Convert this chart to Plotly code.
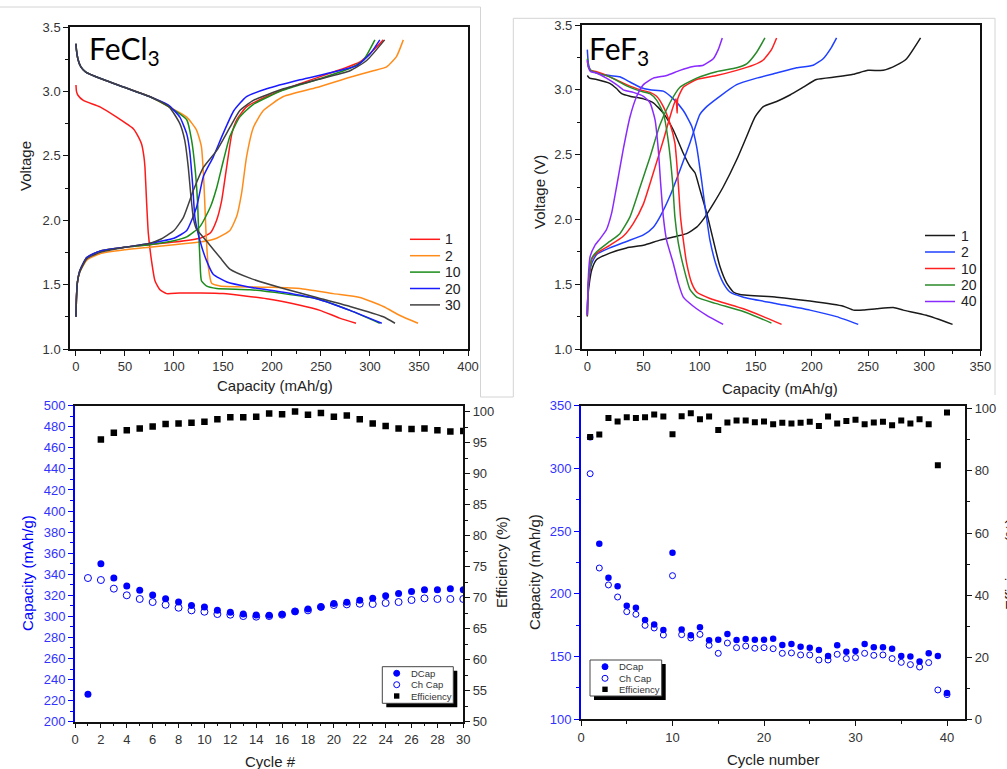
import plotly.graph_objects as go

# ---------------- DATA ----------------
# FeCl3 voltage profiles (capacity mAh/g, voltage V); discharge then charge per cycle
fecl3_cycles = ["1", "2", "10", "20", "30"]
fecl3_colors = ["#ff1a1a", "#ff8c1a", "#1a8c1a", "#1a1aff", "#404040"]

fecl3_c1_dis_x = [0, 0.5, 2, 7.5, 24.5, 41.5, 58.5, 62, 67, 69.4, 70.4, 72, 73.8, 77, 80.6, 85.7, 92.5, 106, 150, 194.6, 228.6, 249, 269, 285.7]
fecl3_c1_dis_y = [3.05, 3.00, 2.97, 2.93, 2.88, 2.80, 2.71, 2.67, 2.59, 2.49, 2.41, 2.15, 1.90, 1.69, 1.53, 1.46, 1.43, 1.435, 1.43, 1.39, 1.34, 1.30, 1.24, 1.20]
fecl3_c1_ch_x = [0, 0.5, 1.5, 4, 11, 24.5, 50, 75, 100, 126.5, 137, 143.5, 148.6, 153.7, 159, 164, 174, 194.6, 228.6, 262.6, 289.8, 303.4, 313.6]
fecl3_c1_ch_y = [1.25, 1.40, 1.52, 1.61, 1.71, 1.76, 1.79, 1.81, 1.83, 1.86, 1.90, 2.00, 2.15, 2.41, 2.67, 2.78, 2.88, 2.96, 3.06, 3.15, 3.23, 3.32, 3.40]

fecl3_c2_dis_x = [0, 0.5, 2, 5, 10, 25, 50, 75.5, 92.5, 113, 123, 128, 130.6, 132.7, 135, 138.4, 147, 194.6, 228.6, 262.6, 289.8, 313.6, 330.6, 349]
fecl3_c2_dis_y = [3.37, 3.32, 3.25, 3.19, 3.15, 3.10, 3.03, 2.96, 2.89, 2.80, 2.70, 2.57, 2.28, 1.90, 1.64, 1.51, 1.49, 1.48, 1.47, 1.43, 1.40, 1.33, 1.26, 1.20]
fecl3_c2_ch_x = [0, 0.5, 1.5, 4, 11, 24.5, 50, 75, 100, 126.5, 143.5, 157, 164, 169, 174, 181, 191, 211.6, 245.6, 279.6, 303.4, 317, 327, 334]
fecl3_c2_ch_y = [1.25, 1.40, 1.52, 1.60, 1.69, 1.74, 1.77, 1.79, 1.81, 1.83, 1.86, 1.92, 2.03, 2.21, 2.49, 2.72, 2.85, 2.96, 3.03, 3.11, 3.16, 3.19, 3.27, 3.40]

fecl3_c10_dis_x = [0, 0.5, 2, 5, 10, 25, 50, 75, 95, 113, 118, 121.4, 124, 125, 126.5, 128, 133, 143.5, 177.5, 211.6, 245.6, 279.6, 310]
fecl3_c10_dis_y = [3.37, 3.32, 3.25, 3.19, 3.15, 3.10, 3.03, 2.96, 2.88, 2.78, 2.62, 2.41, 2.15, 1.95, 1.69, 1.53, 1.49, 1.47, 1.46, 1.43, 1.39, 1.30, 1.20]
fecl3_c10_ch_x = [0, 0.5, 1.5, 4, 11, 24.5, 50, 75, 100, 113, 126.5, 137, 143.5, 150.3, 157, 167, 181, 211.6, 245.6, 279.6, 293, 305]
fecl3_c10_ch_y = [1.25, 1.40, 1.52, 1.61, 1.71, 1.76, 1.79, 1.81, 1.84, 1.87, 1.95, 2.10, 2.25, 2.46, 2.65, 2.80, 2.90, 3.01, 3.09, 3.18, 3.24, 3.40]

fecl3_c20_dis_x = [0, 0.5, 2, 5, 10, 25, 50, 75, 95, 106, 113, 116, 119, 121.4, 126.5, 133, 140, 154, 177.5, 211.6, 245.6, 279.6, 312]
fecl3_c20_dis_y = [3.37, 3.32, 3.25, 3.19, 3.15, 3.10, 3.03, 2.96, 2.89, 2.80, 2.67, 2.54, 2.28, 2.02, 1.84, 1.69, 1.58, 1.52, 1.48, 1.44, 1.39, 1.30, 1.20]
fecl3_c20_ch_x = [0, 0.5, 1.5, 4, 11, 24.5, 50, 75, 100, 113, 123, 130, 140, 150, 161, 174, 194.6, 228.6, 262.6, 286.4, 300, 310]
fecl3_c20_ch_y = [1.25, 1.40, 1.52, 1.61, 1.71, 1.76, 1.79, 1.82, 1.86, 1.92, 2.10, 2.34, 2.49, 2.67, 2.85, 2.96, 3.02, 3.09, 3.15, 3.20, 3.29, 3.40]

fecl3_c30_dis_x = [0, 0.5, 2, 5, 10, 25, 50, 75, 95, 106, 111, 114.6, 117, 119.7, 123, 133, 147, 157, 177.5, 211.6, 245.6, 279.6, 313.6, 325.5]
fecl3_c30_dis_y = [3.37, 3.32, 3.25, 3.19, 3.15, 3.10, 3.03, 2.96, 2.88, 2.75, 2.62, 2.41, 2.21, 2.02, 1.93, 1.84, 1.71, 1.62, 1.55, 1.47, 1.40, 1.33, 1.25, 1.20]
fecl3_c30_ch_x = [0, 0.5, 1.5, 4, 11, 24.5, 50, 75, 85.7, 100, 109.5, 119.7, 130, 143.5, 157, 167, 181, 211.6, 245.6, 279.6, 296.6, 315]
fecl3_c30_ch_y = [1.25, 1.40, 1.52, 1.60, 1.70, 1.75, 1.79, 1.82, 1.85, 1.92, 2.02, 2.23, 2.41, 2.54, 2.72, 2.85, 2.93, 3.02, 3.09, 3.16, 3.24, 3.40]

# FeF3 voltage profiles
fef3_cycles = ["1", "2", "10", "20", "40"]
fef3_colors = ["#1a1a1a", "#2040ff", "#ff2020", "#2a8a2a", "#8a2aff"]

fef3_c1_dis_x = [0, 2, 8.3, 20, 26, 30.6, 38, 50, 58.8, 67.7, 76.6, 85.5, 91.4, 95.9, 100.3, 106.3, 112.2, 118, 124, 130, 136, 168.6, 198.3, 228, 237, 245.8, 257.6, 272.5, 281.4, 302, 325.3]
fef3_c1_dis_y = [3.11, 3.09, 3.08, 3.05, 3.01, 2.97, 2.95, 2.93, 2.90, 2.82, 2.69, 2.51, 2.41, 2.36, 2.23, 2.05, 1.84, 1.64, 1.51, 1.44, 1.42, 1.40, 1.37, 1.33, 1.30, 1.30, 1.31, 1.32, 1.30, 1.26, 1.19]
fef3_c1_ch_x = [0, 0.5, 2, 3.9, 8.3, 20, 35, 50, 64.7, 79.5, 88.5, 97.4, 103.3, 112.2, 121, 133, 141.9, 149.3, 156.7, 168.6, 180.5, 192.3, 204, 222, 236.9, 250, 263.6, 275.4, 284.4, 296.8]
fef3_c1_ch_y = [1.25, 1.40, 1.52, 1.61, 1.69, 1.74, 1.78, 1.80, 1.84, 1.87, 1.89, 1.94, 2.00, 2.12, 2.25, 2.46, 2.64, 2.79, 2.87, 2.91, 2.96, 3.02, 3.08, 3.10, 3.12, 3.15, 3.15, 3.19, 3.24, 3.40]

fef3_c2_dis_x = [0, 1, 3, 8.3, 20, 29, 38, 47, 55.8, 67.7, 76.6, 85.5, 92.9, 97.4, 101.8, 104.8, 109.2, 115, 121, 127, 139, 168.6, 198.3, 222, 241.3]
fef3_c2_dis_y = [3.31, 3.20, 3.15, 3.13, 3.11, 3.10, 3.06, 3.02, 3.00, 2.99, 2.93, 2.84, 2.72, 2.56, 2.30, 2.10, 1.84, 1.64, 1.51, 1.44, 1.40, 1.35, 1.30, 1.25, 1.19]
fef3_c2_ch_x = [0, 0.5, 1.5, 3.9, 8.3, 20, 35, 50, 58.8, 64.7, 73.6, 82.5, 91.4, 100.3, 106.3, 118, 133, 150.8, 168.6, 186.4, 201.2, 210, 217.6, 222]
fef3_c2_ch_y = [1.27, 1.42, 1.55, 1.66, 1.73, 1.78, 1.83, 1.88, 1.94, 2.02, 2.18, 2.38, 2.59, 2.81, 2.87, 2.95, 3.04, 3.09, 3.13, 3.17, 3.19, 3.24, 3.33, 3.40]

fef3_c10_dis_x = [0, 1, 3, 8.3, 20, 35, 47, 55.8, 61.7, 67.7, 73.6, 78, 81, 83, 85.5, 88.5, 92.9, 97.4, 109.2, 139, 156.7, 173]
fef3_c10_dis_y = [3.22, 3.18, 3.15, 3.14, 3.10, 3.04, 3.00, 2.98, 2.95, 2.87, 2.74, 2.59, 2.28, 2.02, 1.84, 1.66, 1.51, 1.44, 1.39, 1.31, 1.25, 1.19]
fef3_c10_ch_x = [0, 0.5, 1.5, 3.9, 8.3, 20, 32, 41, 50, 58.8, 67.7, 73.6, 79, 80, 80.5, 85.5, 97.4, 115, 133, 147.8, 156.7, 164, 168.6]
fef3_c10_ch_y = [1.26, 1.42, 1.56, 1.69, 1.74, 1.80, 1.87, 1.97, 2.12, 2.36, 2.61, 2.79, 2.93, 2.82, 2.93, 3.02, 3.08, 3.11, 3.15, 3.19, 3.23, 3.31, 3.40]

fef3_c20_dis_x = [0, 1, 3, 8.3, 20, 35, 47, 55.8, 61.7, 67.7, 72, 76, 78, 81, 85.5, 91.4, 97.4, 115, 139, 164]
fef3_c20_dis_y = [3.24, 3.18, 3.15, 3.13, 3.10, 3.03, 2.99, 2.97, 2.92, 2.82, 2.61, 2.28, 2.02, 1.82, 1.64, 1.46, 1.40, 1.35, 1.29, 1.20]
fef3_c20_ch_x = [0, 0.5, 1.5, 3.9, 8.3, 20, 29, 38, 47, 55.8, 64.7, 73.6, 82.5, 97.4, 115, 133, 141.9, 150.8, 158.2]
fef3_c20_ch_y = [1.26, 1.43, 1.57, 1.70, 1.75, 1.83, 1.89, 2.02, 2.25, 2.48, 2.73, 2.90, 3.02, 3.09, 3.14, 3.17, 3.20, 3.29, 3.40]

fef3_c40_dis_x = [0, 1, 3, 8.3, 17, 26, 32, 41, 50, 55.8, 60.3, 63.2, 65.3, 67.7, 70.6, 76.6, 81, 85.5, 94.4, 106.3, 121]
fef3_c40_dis_y = [3.23, 3.17, 3.14, 3.13, 3.09, 3.04, 3.00, 2.98, 2.95, 2.90, 2.77, 2.54, 2.28, 2.02, 1.84, 1.66, 1.51, 1.40, 1.33, 1.26, 1.19]
fef3_c40_ch_x = [0, 0.5, 1.2, 2.4, 6.8, 11.3, 17, 21.7, 26, 32, 38, 44, 50, 58.8, 70.6, 82.5, 94.4, 103.3, 112.2, 116.6, 120.2]
fef3_c40_ch_y = [1.26, 1.45, 1.60, 1.71, 1.80, 1.85, 1.92, 2.05, 2.25, 2.54, 2.79, 2.95, 3.04, 3.09, 3.11, 3.15, 3.18, 3.19, 3.24, 3.31, 3.40]

# FeCl3 cycling
fecl3_cycle = list(range(1, 31))
fecl3_dcap = [226, 350, 336.4, 328.8, 324.7, 320.3, 316.8, 313.6, 310.4, 308.9, 305.7, 303.8, 302.2, 301.3, 301.0,
              302.0, 304.7, 307.0, 309.0, 312.3, 313.3, 315.2, 317.1, 319.6, 321.8, 323.7, 325.3, 325.3, 326.3, 325.3]
fecl3_chcap = [336.4, 334.5, 326.3, 320.0, 316.5, 313.6, 311.0, 308.2, 305.7, 304.4, 302.2, 301.6, 300.3, 299.7, 300.3,
               301.6, 304.7, 305.7, 309.0, 310.8, 311.4, 312.0, 311.7, 312.7, 313.6, 315.5, 317.1, 316.5, 316.5, 316.5]
fecl3_eff_cycle = list(range(2, 31))
fecl3_eff = [95.5, 96.6, 97.0, 97.3, 97.6, 98.0, 98.1, 98.2, 98.4, 98.8, 99.1, 99.1, 99.2, 99.7, 99.6, 100.05,
             99.5, 99.8, 99.2, 99.4, 98.8, 98.1, 97.7, 97.3, 97.2, 97.3, 97.0, 96.8, 96.9]

# FeF3 cycling
fef3_cycle = list(range(1, 41))
fef3_dcap = [324.8, 240.0, 212.9, 206.0, 190.6, 189.0, 179.2, 175.5, 171.2, 232.8, 171.5, 167.0, 173.3, 163.0, 163.5,
             168.0, 163.2, 164.0, 163.5, 163.5, 164.3, 159.2, 160.0, 157.9, 157.1, 155.3, 150.5, 159.0, 153.9, 154.5,
             160.0, 157.4, 157.4, 156.3, 150.5, 150.0, 146.0, 152.6, 150.5, 121.0]
fef3_chcap = [295.8, 220.6, 207.1, 197.5, 185.8, 183.7, 174.9, 172.8, 167.2, 214.5, 167.5, 164.8, 167.7, 159.0, 152.6,
              160.8, 157.1, 158.4, 156.6, 157.1, 156.3, 152.6, 152.9, 151.3, 151.3, 147.3, 147.3, 151.8, 148.4, 149.2,
              152.6, 151.0, 151.3, 148.4, 145.4, 143.6, 141.7, 145.2, 123.4, 119.7]
fef3_eff = [90.9, 91.7, 97.0, 95.9, 97.3, 97.0, 97.3, 98.2, 97.5, 91.8, 97.6, 98.6, 96.6, 97.5, 93.2, 95.6, 96.2, 96.2,
            95.7, 95.9, 95.0, 95.5, 95.3, 95.5, 95.8, 94.5, 97.5, 95.3, 96.1, 96.5, 95.0, 95.6, 95.8, 94.7, 96.2, 95.3,
            96.6, 95.0, 81.8, 98.8]

legend_cap_labels = ["DCap", "Ch Cap", "Efficiency"]

# ---------------- FIGURE ----------------
W, H = 1007, 769
def PX(x): return x / W
def PY(y): return 1 - y / H

FONT = "Liberation Sans, Arial, sans-serif"
BLUE = "#0000ff"

fig = go.Figure()

fecl3_dis = [(fecl3_c1_dis_x, fecl3_c1_dis_y, fecl3_c1_ch_x, fecl3_c1_ch_y),
             (fecl3_c2_dis_x, fecl3_c2_dis_y, fecl3_c2_ch_x, fecl3_c2_ch_y),
             (fecl3_c10_dis_x, fecl3_c10_dis_y, fecl3_c10_ch_x, fecl3_c10_ch_y),
             (fecl3_c20_dis_x, fecl3_c20_dis_y, fecl3_c20_ch_x, fecl3_c20_ch_y),
             (fecl3_c30_dis_x, fecl3_c30_dis_y, fecl3_c30_ch_x, fecl3_c30_ch_y)]
for (dx_, dy_, cx_, cy_), name, col in zip(fecl3_dis, fecl3_cycles, fecl3_colors):
    for xs, ys in ((dx_, dy_), (cx_, cy_)):
        fig.add_trace(go.Scatter(x=xs, y=ys, mode="lines", name=name,
                                 line=dict(color=col, width=1.5, shape="spline", smoothing=0.5),
                                 xaxis="x", yaxis="y", showlegend=False))

fef3_dis = [(fef3_c1_dis_x, fef3_c1_dis_y, fef3_c1_ch_x, fef3_c1_ch_y),
            (fef3_c2_dis_x, fef3_c2_dis_y, fef3_c2_ch_x, fef3_c2_ch_y),
            (fef3_c10_dis_x, fef3_c10_dis_y, fef3_c10_ch_x, fef3_c10_ch_y),
            (fef3_c20_dis_x, fef3_c20_dis_y, fef3_c20_ch_x, fef3_c20_ch_y),
            (fef3_c40_dis_x, fef3_c40_dis_y, fef3_c40_ch_x, fef3_c40_ch_y)]
for (dx_, dy_, cx_, cy_), name, col in zip(fef3_dis, fef3_cycles, fef3_colors):
    for xs, ys in ((dx_, dy_), (cx_, cy_)):
        fig.add_trace(go.Scatter(x=xs, y=ys, mode="lines", name=name,
                                 line=dict(color=col, width=1.5, shape="spline", smoothing=0.5),
                                 xaxis="x2", yaxis="y2", showlegend=False))

# Bottom-left
fig.add_trace(go.Scatter(x=fecl3_cycle, y=fecl3_chcap, mode="markers", xaxis="x3", yaxis="y3",
                         marker=dict(symbol="circle-open", size=7, color=BLUE, line=dict(width=1)), showlegend=False))
fig.add_trace(go.Scatter(x=fecl3_cycle, y=fecl3_dcap, mode="markers", xaxis="x3", yaxis="y3",
                         marker=dict(symbol="circle", size=7, color=BLUE), showlegend=False))
fig.add_trace(go.Scatter(x=fecl3_eff_cycle, y=fecl3_eff, mode="markers", xaxis="x3", yaxis="y4",
                         marker=dict(symbol="square", size=6.5, color="black"), showlegend=False))
# Bottom-right
fig.add_trace(go.Scatter(x=fef3_cycle, y=fef3_chcap, mode="markers", xaxis="x4", yaxis="y5",
                         marker=dict(symbol="circle-open", size=6, color=BLUE, line=dict(width=1)), showlegend=False))
fig.add_trace(go.Scatter(x=fef3_cycle, y=fef3_dcap, mode="markers", xaxis="x4", yaxis="y5",
                         marker=dict(symbol="circle", size=6.5, color=BLUE), showlegend=False))
fig.add_trace(go.Scatter(x=fef3_cycle, y=fef3_eff, mode="markers", xaxis="x4", yaxis="y6",
                         marker=dict(symbol="square", size=6, color="black"), showlegend=False))

tf = dict(family=FONT, size=13, color="#333")
tfb = dict(family=FONT, size=13, color="#3333ff")

def axis(domain, rng, dtick, mdtick, anchor, lc="#111", tickc="#111", font=tf, mirror=True, lw=1.5, fmt=None, **kw):
    d = dict(range=rng, dtick=dtick, tick0=0, ticks="outside", ticklen=5, tickwidth=1,
             tickcolor=tickc, minor=dict(dtick=mdtick, tick0=0, ticks="outside", ticklen=3, tickwidth=1, tickcolor=tickc),
             showline=True, linecolor=lc, linewidth=lw, mirror=mirror, showgrid=False, zeroline=False,
             anchor=anchor, tickfont=font, fixedrange=True, automargin=False)
    if domain is not None:
        d["domain"] = domain
    if fmt:
        d["tickformat"] = fmt
    d.update(kw)
    return d

fig.update_layout(
    template="none",
    width=W, height=H, margin=dict(l=0, r=0, t=0, b=0, pad=0), autosize=False,
    paper_bgcolor="white", plot_bgcolor="white", showlegend=False,
    xaxis=axis([PX(70), PX(468)], [-6.1, 400], 50, 25, "y"),
    yaxis=axis([PY(349), PY(27)], [1.0, 3.5], 0.5, 0.25, "x", fmt=".1f"),
    xaxis2=axis([PX(581.7), PX(980.3)], [-5, 350], 50, 25, "y2"),
    yaxis2=axis([PY(349), PY(25)], [1.0, 3.5], 0.5, 0.25, "x2", fmt=".1f"),
    xaxis3=axis([PX(75), PX(463.3)], [0, 30], 2, 1, "y3"),
    yaxis3=axis([PY(721.7), PY(405.7)], [200, 500], 20, 10, "x3", lc=BLUE, tickc=BLUE, font=tfb, mirror=False, lw=2),
    yaxis4=axis(None, [50, 100.97], 5, 2.5, "x3", mirror=False, overlaying="y3", side="right"),
    xaxis4=axis([PX(581), PX(965.3)], [0, 42], 10, 5, "y5"),
    yaxis5=axis([PY(719.3), PY(405.7)], [100, 350], 50, 25, "x4", lc=BLUE, tickc=BLUE, font=tfb, mirror=False, lw=2),
    yaxis6=axis(None, [0, 101], 20, 10, "x4", mirror=False, overlaying="y5", side="right"),
)

ann = []
def text(x, y, s, size=15, color="#222", angle=0, xanchor="center", yanchor="middle", family=FONT):
    ann.append(dict(x=PX(x), y=PY(y), xref="paper", yref="paper", text=s, showarrow=False, textangle=angle,
                    xanchor=xanchor, yanchor=yanchor, font=dict(family=family, size=size, color=color)))

# axis titles
text(25, 166, "Voltage", angle=-90)
text(275, 385, "Capacity (mAh/g)")
text(540, 192, "Voltage (V)", angle=-90)
text(780, 388, "Capacity (mAh/g)")
text(27, 573, "Capacity (mAh/g)", color=BLUE, angle=-90)
text(270, 761, "Cycle #")
text(501, 563, "Efficiency (%)", angle=-90)
text(534, 572, "Capacity (mAh/g)", angle=-90)
text(773, 759, "Cycle number")
text(1010, 565, "Efficiency (%)", angle=-90)

# panel labels
text(87, 50, "FeCl<sub>3</sub>", size=30, color="black", xanchor="left", family="Lato, Open Sans, sans-serif")
text(587, 50, "FeF<sub>3</sub>", size=30, color="black", xanchor="left", family="Lato, Open Sans, sans-serif")

shapes = []
# top legends
for i, (name, col) in enumerate(zip(fecl3_cycles, fecl3_colors)):
    yy = 239.3 + i * 16.4
    shapes.append(dict(type="line", xref="paper", yref="paper", x0=PX(410), x1=PX(440), y0=PY(yy), y1=PY(yy),
                       line=dict(color=col, width=1.5)))
    text(443, yy, name, size=14, color="#222", xanchor="left")
for i, (name, col) in enumerate(zip(fef3_cycles, fef3_colors)):
    yy = 235.5 + i * 16.5
    shapes.append(dict(type="line", xref="paper", yref="paper", x0=PX(925), x1=PX(955), y0=PY(yy), y1=PY(yy),
                       line=dict(color=col, width=1.5)))
    text(959, yy, name, size=14, color="#222", xanchor="left")

# bottom legends
def cap_legend(x0, y0, w, h, mx, tx, ys):
    shapes.append(dict(type="rect", xref="paper", yref="paper", x0=PX(x0 + 4), x1=PX(x0 + w + 4),
                       y0=PY(y0 + 4), y1=PY(y0 + h + 4), fillcolor="black", line=dict(width=0), layer="above"))
    shapes.append(dict(type="rect", xref="paper", yref="paper", x0=PX(x0), x1=PX(x0 + w),
                       y0=PY(y0), y1=PY(y0 + h), fillcolor="white", line=dict(color="#444", width=1), layer="above"))
    r = 3
    shapes.append(dict(type="circle", xref="paper", yref="paper", xsizemode="pixel", ysizemode="pixel",
                       xanchor=PX(mx), yanchor=PY(ys[0]), x0=-r, x1=r, y0=-r, y1=r,
                       fillcolor=BLUE, line=dict(color=BLUE, width=1), layer="above"))
    shapes.append(dict(type="circle", xref="paper", yref="paper", xsizemode="pixel", ysizemode="pixel",
                       xanchor=PX(mx), yanchor=PY(ys[1]), x0=-r, x1=r, y0=-r, y1=r,
                       fillcolor="white", line=dict(color=BLUE, width=1), layer="above"))
    shapes.append(dict(type="rect", xref="paper", yref="paper", xsizemode="pixel", ysizemode="pixel",
                       xanchor=PX(mx), yanchor=PY(ys[2]), x0=-2.7, x1=2.7, y0=-2.7, y1=2.7,
                       fillcolor="black", line=dict(width=0), layer="above"))
    for lab, yy in zip(legend_cap_labels, ys):
        text(tx, yy, lab, size=9.5, color="#333", xanchor="left")

cap_legend(382.3, 666.7, 71, 36.6, 396.7, 409.3, [673.3, 684.7, 696])
cap_legend(590, 660, 71.7, 36, 605, 617.3, [666.7, 678.3, 689.3])

# faint image borders
g = dict(color="#d4d4d4", width=1)
for (a, b, c, d) in [(0, 7, 480.5, 7), (480.5, 7, 480.5, 397), (480.5, 397, 513.3, 397),
                     (513.3, 18.3, 513.3, 397), (513.3, 18.3, 995, 18.3), (995, 18.3, 995, 395)]:
    shapes.append(dict(type="line", xref="paper", yref="paper", x0=PX(a), y0=PY(b), x1=PX(c), y1=PY(d), line=g))

fig.update_layout(annotations=ann, shapes=shapes)
fig.write_html("out.html")
